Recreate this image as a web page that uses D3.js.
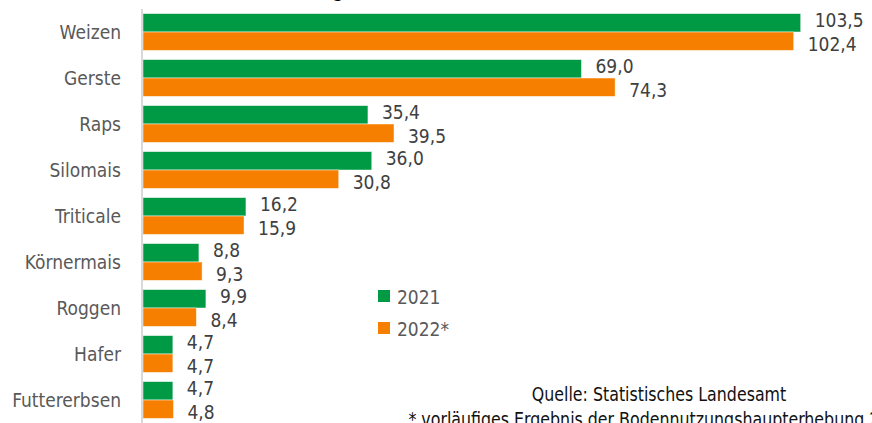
<!DOCTYPE html>
<html>
<head>
<meta charset="utf-8">
<script src="https://cdn.jsdelivr.net/npm/d3@7"></script>
<style>
  html, body { margin: 0; padding: 0; background: #fff; }
  svg { display: block; font-family: "DejaVu Sans Condensed", "DejaVu Sans", sans-serif; font-stretch: condensed; }
</style>
</head>
<body>
<svg id="chart" width="872" height="423"></svg>
<script>
const crops = ["Weizen", "Gerste", "Raps", "Silomais", "Triticale", "Körnermais", "Roggen", "Hafer", "Futtererbsen"];
const years = ["2021", "2022*"];
const values2021 = [103.5, 69.0, 35.4, 36.0, 16.2, 8.8, 9.9, 4.7, 4.7];
const values2022 = [102.4, 74.3, 39.5, 30.8, 15.9, 9.3, 8.4, 4.7, 4.8];
const colors = ["#009a44", "#f77f00"];
const titleText = "Anbaufläche ausgewählter Kulturen in 1.000 ha";
const sourceLines = ["Quelle: Statistisches Landesamt", "* vorläufiges Ergebnis der Bodennutzungshaupterhebung 2022"];

const svg = d3.select("#chart");

const rows = crops.map((c, i) => ({ crop: c, vals: [values2021[i], values2022[i]] }));

const y = d3.scaleBand()
    .domain(crops)
    .range([9, 423])
    .paddingInner(0.2)
    .paddingOuter(0.1);

const ySub = d3.scaleBand()
    .domain(years)
    .range([0, y.bandwidth()]);

const x = d3.scaleLinear()
    .domain([0, 110])
    .range([143, 842]);

const fmt = v => d3.format(".1f")(v).replace(".", ",");

// title (mostly above the visible area)
const title = svg.append("text")
    .attr("y", -3)
    .attr("font-family", "Liberation Sans, Arial, sans-serif")
    .attr("font-weight", "bold")
    .attr("font-size", "20px")
    .attr("fill", "#000")
    .text(titleText);
const gIdx = titleText.indexOf("g");
const gPos = title.node().getSubStringLength(0, gIdx) + title.node().getSubStringLength(gIdx, 1) / 2;
title.attr("x", 338 - gPos);

// bars
const groups = svg.selectAll("g.crop")
    .data(rows)
    .join("g")
    .attr("class", "crop")
    .attr("transform", d => `translate(0,${y(d.crop)})`);

groups.selectAll("rect")
    .data(d => d.vals.map((v, j) => ({ v, j })))
    .join("rect")
    .attr("x", x(0))
    .attr("y", d => ySub(years[d.j]))
    .attr("width", d => x(d.v) - x(0))
    .attr("height", ySub.bandwidth())
    .attr("fill", d => colors[d.j])
    .attr("stroke", "#ffffff")
    .attr("stroke-opacity", 0.6)
    .attr("stroke-width", 0.8);

groups.selectAll("text.val")
    .data(d => d.vals.map((v, j) => ({ v, j })))
    .join("text")
    .attr("class", "val")
    .attr("x", d => x(d.v) + 14)
    .attr("y", d => ySub(years[d.j]) + ySub.bandwidth() / 2 + (d.j === 0 ? -3 : 3))
    .attr("dominant-baseline", "central")
    .attr("font-size", "19px")
    .attr("fill", "#404040")
    .text(d => fmt(d.v));

// category axis line
svg.append("line")
    .attr("x1", x(0) - 1).attr("x2", x(0) - 1)
    .attr("y1", 9).attr("y2", 423)
    .attr("stroke", "#d9d9d9")
    .attr("stroke-width", 2);

svg.append("g")
    .selectAll("text")
    .data(crops)
    .join("text")
    .attr("x", 121)
    .attr("y", d => y(d) + y.bandwidth() / 2)
    .attr("text-anchor", "end")
    .attr("dominant-baseline", "central")
    .attr("font-size", "19px")
    .attr("fill", "#595959")
    .text(d => d);

// legend
const legend = svg.append("g")
    .attr("transform", "translate(378,296)");
years.forEach((yr, i) => {
    const g = legend.append("g").attr("transform", `translate(0,${i * 32})`);
    g.append("rect")
        .attr("x", 0).attr("y", -6)
        .attr("width", 12).attr("height", 12)
        .attr("fill", colors[i]);
    g.append("text")
        .attr("x", 19)
        .attr("y", 1)
        .attr("dominant-baseline", "central")
        .attr("font-size", "19px")
        .attr("fill", "#595959")
        .text(yr);
});

// source
svg.append("g")
    .selectAll("text")
    .data(sourceLines)
    .join("text")
    .attr("transform", (d, i) => `translate(659,${401 + i * 25}) scale(0.88,1)`)
    .attr("text-anchor", "middle")
    .attr("font-size", "20px")
    .attr("fill", "#111")
    .text(d => d);
</script>
</body>
</html>
